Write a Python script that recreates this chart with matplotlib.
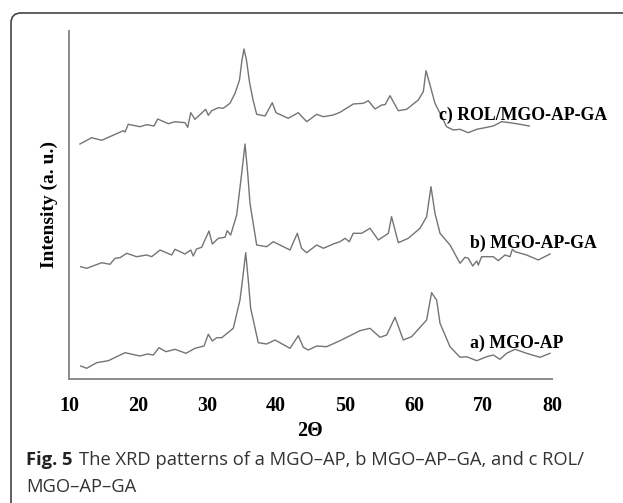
import numpy as np
import matplotlib
matplotlib.use("Agg")
import matplotlib.pyplot as plt
from matplotlib.patches import FancyBboxPatch
from matplotlib.transforms import IdentityTransform

# patrones XRD (2theta, intensidad arbitraria)
x_a = [11.70, 12.57, 14.00, 15.70, 16.42, 18.12, 20.29, 21.35, 22.22, 23.04, 24.06, 25.36,
       26.96, 28.26, 29.57, 30.19, 30.77, 31.41, 32.13, 33.81, 34.78, 35.26, 35.61, 35.98,
       36.33, 37.43, 38.65, 39.86, 42.03, 43.23, 43.96, 44.68, 45.90, 47.33, 49.28, 52.17,
       53.62, 55.07, 56.04, 57.25, 58.45, 59.65, 61.83, 62.55, 63.28, 63.77, 65.22, 66.67,
       67.62, 69.09, 70.54, 71.49, 72.46, 73.42, 74.64, 76.32, 78.26, 79.71]
y_a = [13, 10.7, 16.3, 18.3, 20.7, 26.3, 23, 25, 24, 31.3, 27.3, 29.7,
       25.7, 30.7, 33, 44.7, 38, 41.3, 41.3, 50.7, 79, 105.7, 126.3, 99,
       70.7, 36.3, 35, 39, 30.7, 43.3, 31.7, 29, 33, 32.3, 38.3, 48.3,
       50.7, 41.7, 44, 61.7, 39, 42.3, 59, 86.3, 79, 55.7, 32.3, 21.7,
       22.3, 18.3, 22.3, 24, 19.7, 25.7, 29.7, 25.7, 21.7, 25.7]

x_b = [11.70, 12.57, 14.74, 15.94, 16.67, 17.39, 18.36, 19.81, 21.26, 21.99, 23.19, 24.88,
       25.36, 26.81, 27.64, 28.01, 28.49, 29.22, 30.29, 30.77, 31.64, 32.61, 32.93, 33.43,
       34.30, 35.03, 35.51, 35.90, 36.23, 37.20, 38.65, 39.61, 42.03, 43.09, 43.71, 44.43,
       45.90, 46.86, 48.30, 49.28, 50.00, 50.62, 51.20, 52.41, 53.62, 54.83, 56.28, 56.75,
       57.72, 59.17, 60.87, 61.83, 62.46, 63.04, 63.77, 65.22, 66.67, 67.39, 67.87, 68.51,
       69.09, 69.32, 69.80, 71.49, 72.21, 73.19, 73.91, 74.25, 74.64, 76.32, 78.01, 79.71]
y_b = [112.3, 110.7, 116.3, 114.7, 120.7, 121.3, 125.7, 122.3, 124, 122.3, 129, 124,
       129.7, 125, 129, 123, 130, 131.7, 148, 135, 140.7, 141.7, 148.3, 144,
       164, 205.7, 235, 205.7, 175.7, 134, 132.3, 137.3, 129, 145.7, 130.7, 126.3,
       134, 130.7, 135, 137.3, 140.7, 137.3, 145.7, 145.7, 150.7, 139, 145.7, 162.3,
       136.3, 140.7, 150.7, 162.3, 192.3, 165.7, 145.7, 134, 115.7, 121.7, 120.7, 113,
       118, 114, 122.3, 122.3, 118.3, 124, 122.3, 129.7, 127.3, 124, 119, 125]

x_c = [11.59, 13.29, 14.74, 17.87, 18.12, 18.59, 20.29, 21.26, 22.32, 22.86, 24.39, 25.36,
       26.81, 27.20, 27.64, 28.26, 29.81, 30.19, 30.68, 31.64, 32.36, 33.33, 34.06, 34.71,
       35.07, 35.36, 35.72, 36.16, 36.67, 37.20, 38.41, 39.46, 40.00, 41.78, 43.23, 44.45,
       45.90, 46.86, 48.30, 49.28, 51.20, 52.65, 53.38, 54.35, 55.32, 55.80, 56.52, 57.72,
       58.93, 60.62, 61.35, 61.74, 62.32, 63.04, 64.01, 64.72, 65.70, 66.67, 67.87, 69.09,
       70.29, 71.49, 72.70, 73.91, 75.36, 76.71]
y_c = [235, 241.3, 238.7, 248.3, 247, 254.7, 252.3, 254.3, 253, 260, 255.3, 257.3,
       256.3, 251.7, 266.3, 259.7, 269.7, 263.7, 268.3, 271.3, 270.7, 275.7, 285.7, 299,
       319, 330, 319, 297, 279, 264.7, 263, 276.3, 266.3, 260.7, 266.3, 257.3,
       264.7, 262.3, 264, 266.7, 275, 275.7, 278.3, 270, 274, 274.3, 283.3, 268.3,
       269.7, 279, 287.3, 308.3, 294, 275.7, 262.3, 252.3, 249, 249.7, 246.3, 249.7,
       251.3, 253, 257.3, 256.3, 254.7, 253]

labels = ["a) MGO-AP", "b) MGO-AP-GA", "c) ROL/MGO-AP-GA"]
xticks = [10, 20, 30, 40, 50, 60, 70, 80]

serif = ["Liberation Serif", "DejaVu Serif"]

fig = plt.figure(figsize=(6.23, 5.03), dpi=100)
ax = fig.add_axes([69 / 623, 1 - 379 / 503, (552 - 69) / 623, (379 - 31) / 503])

for xs, ys in [(x_a, y_a), (x_b, y_b), (x_c, y_c)]:
    ax.plot(xs, ys, color="#747474", lw=1.0)

ax.set_xlim(10, 80)
ax.set_ylim(0, 348)
ax.set_xticks(xticks)
ax.set_yticks([])
ax.tick_params(axis="x", length=0, pad=12)
for lab in ax.get_xticklabels():
    lab.set_fontfamily(serif)
    lab.set_fontweight("bold")
    lab.set_fontsize(14.5)
for s in ["top", "right"]:
    ax.spines[s].set_visible(False)
for s in ["left", "bottom"]:
    ax.spines[s].set_color("#8a8a8a")
    ax.spines[s].set_linewidth(1.4)

ax.set_xlabel("2Θ", family=serif, weight="bold", fontsize=14.5, labelpad=4)
ax.set_ylabel("Intensity (a. u.)", family=serif, weight="bold", fontsize=14, labelpad=8)

# etiquetas de cada patron
ax.text(68.1, 36, labels[0], family=serif, weight="bold", fontsize=12.8, va="center")
ax.text(68.1, 136, labels[1], family=serif, weight="bold", fontsize=12.8, va="center")
ax.text(63.6, 264, labels[2], family=serif, weight="bold", fontsize=12.8, va="center")

# pie de figura
t = fig.text(26 / 623, 1 - 460 / 503, "Fig. 5", family="Open Sans", weight="bold",
             fontsize=13.2, va="center", color="#222222")
ax.annotate("The XRD patterns of a MGO–AP, b MGO–AP–GA, and c ROL/",
            xy=(1, 0.5), xycoords=t, xytext=(5, 0), textcoords="offset points",
            va="center", family="Open Sans", fontsize=13.2, color="#333333",
            annotation_clip=False)
fig.text(26 / 623, 1 - 487 / 503, "MGO–AP–GA", family="Open Sans",
         fontsize=13.2, va="center", color="#333333")

frame = FancyBboxPatch((11, -40), 1200, 503 - 13 + 40, boxstyle="round,pad=0,rounding_size=10",
                       transform=IdentityTransform(), fill=False, ec="#444444", lw=1.2)
fig.patches.append(frame)

fig.savefig("out.png", dpi=100)
